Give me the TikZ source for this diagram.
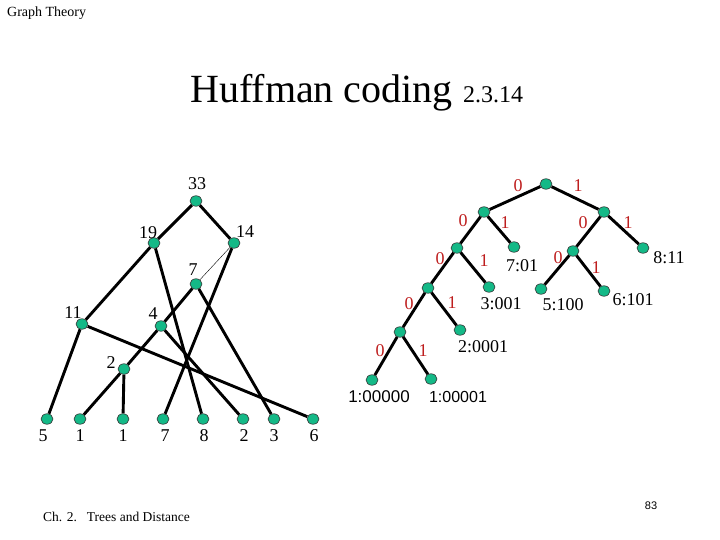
\documentclass[tikz,border=0pt]{standalone}
\usepackage{fontspec}
\setmainfont{Liberation Serif}
\setsansfont{Liberation Sans}
\usetikzlibrary{shapes.geometric}

\definecolor{dotgreen}{RGB}{20,185,135}
\definecolor{bitred}{RGB}{190,30,30}

\tikzset{
  dot/.style={ellipse, draw=black!80, fill=dotgreen, line width=0.6pt,
    minimum width=12pt, minimum height=10.5pt, inner sep=0pt},
  edge/.style={line width=2.9pt},
  weight/.style={font=\fontsize{18}{20}\selectfont, inner sep=0pt},
  bit/.style={text=bitred, font=\fontsize{18}{20}\selectfont, inner sep=0pt},
  code/.style={font=\fontsize{18}{20}\selectfont, inner sep=0pt},
}

\begin{document}
\begin{tikzpicture}[x=1pt, y=-1pt]
    \useasboundingbox (0,0) rectangle (720,540);

    % slide texts
    \node[anchor=base west, inner sep=0pt, font=\fontsize{14}{16}\selectfont] (head) at (7,17) {Graph Theory};
    \node[anchor=base west, inner sep=0pt, font=\fontsize{40}{44}\selectfont] (title) at (190,103) {Huffman coding};
    \node[anchor=base west, inner sep=0pt, font=\fontsize{24}{26}\selectfont] (sect) at (463,103) {2.3.14};
    \node[anchor=base west, inner sep=0pt, font=\fontsize{13.5}{15}\selectfont] (foot) at (43,521) {Ch. 2.\hspace{10pt}Trees and Distance};
    \node[anchor=base, inner sep=0pt, font=\sffamily\fontsize{11}{13}\selectfont] (page) at (651,509) {83};

    % merge tree
    \node[dot] (n33) at (196,201) {};
    \node[dot] (n19) at (154,243) {};
    \node[dot] (n14) at (234,243) {};
    \node[dot] (n7)  at (196,284) {};
    \node[dot] (n11) at (82,324) {};
    \node[dot] (n4)  at (161,326) {};
    \node[dot] (n2)  at (124,369) {};
    \node[dot] (l5)  at (47,419) {};
    \node[dot] (l1a) at (80,419) {};
    \node[dot] (l1b) at (123,419) {};
    \node[dot] (l7)  at (163,419) {};
    \node[dot] (l8)  at (203,419) {};
    \node[dot] (l2)  at (243,419) {};
    \node[dot] (l3)  at (274,419) {};
    \node[dot] (l6)  at (313,419) {};

    \draw[edge] (n33) -- (n19);
    \draw[edge] (n33) -- (n14);
    \draw[edge] (n19) -- (n11);
    \draw[edge] (n19) -- (l8);
    \draw[thin]  (n14) -- (n7);
    \draw[edge] (n14) -- (l7);
    \draw[edge] (n7) -- (n4);
    \draw[edge] (n7) -- (l3);
    \draw[edge] (n11) -- (l5);
    \draw[edge] (n11) -- (l6);
    \draw[edge] (n4) -- (n2);
    \draw[edge] (n4) -- (l2);
    \draw[edge] (n2) -- (l1a);
    \draw[edge] (n2) -- (l1b);

    \node[weight] (w33) at (197,184) {33};
    \node[weight] (w19) at (148,233) {19};
    \node[weight] (w14) at (245,232) {14};
    \node[weight] (w7)  at (193,270) {7};
    \node[weight] (w11) at (73,313) {11};
    \node[weight] (w4)  at (153,314) {4};
    \node[weight] (w2)  at (111,363) {2};
    \foreach \x/\w in {43/5, 80/1, 123/1, 165/7, 204/8, 244/2, 274/3, 314/6}
        \node[weight] at (\x,436) {\w};

    % code tree
    \node[dot] (h)      at (546,184) {};
    \node[dot] (h0)     at (484,212) {};
    \node[dot] (h1)     at (604,212) {};
    \node[dot] (h00)    at (457,248) {};
    \node[dot] (h01)    at (514,247) {};
    \node[dot] (h10)    at (573,251) {};
    \node[dot] (h11)    at (643,248) {};
    \node[dot] (h000)   at (428,288) {};
    \node[dot] (h001)   at (489,287) {};
    \node[dot] (h100)   at (541,289) {};
    \node[dot] (h101)   at (604,291) {};
    \node[dot] (h0000)  at (400,332) {};
    \node[dot] (h0001)  at (460,330) {};
    \node[dot] (h00000) at (372,380) {};
    \node[dot] (h00001) at (431,379) {};

    \draw[edge] (h) -- (h0);
    \draw[edge] (h) -- (h1);
    \draw[edge] (h0) -- (h00);
    \draw[edge] (h0) -- (h01);
    \draw[edge] (h1) -- (h10);
    \draw[edge] (h1) -- (h11);
    \draw[edge] (h00) -- (h000);
    \draw[edge] (h00) -- (h001);
    \draw[edge] (h10) -- (h100);
    \draw[edge] (h10) -- (h101);
    \draw[edge] (h000) -- (h0000);
    \draw[edge] (h000) -- (h0001);
    \draw[edge] (h0000) -- (h00000);
    \draw[edge] (h0000) -- (h00001);

    \foreach \x/\y/\b in {518/186/0, 578/186/1, 463/221/0, 505/223/1,
        583/223/0, 628/223/1, 440/259/0, 484/261/1, 558/258/0, 596/268/1,
        409/304/0, 452/303/1, 380/351/0, 423/351/1}
        \node[bit] at (\x,\y) {\b};

    \node[code] (c7) at (522,266) {7:01};
    \node[code] (c8) at (669,258) {8:11};
    \node[code] (c3) at (501,304) {3:001};
    \node[code] (c5) at (563,305) {5:100};
    \node[code] (c6) at (633,300) {6:101};
    \node[code] (c2) at (483,347) {2:0001};
    \node[code, font=\sffamily\fontsize{17}{19}\selectfont] (c1a) at (379,397) {1:00000};
    \node[code, font=\sffamily\fontsize{16}{19}\selectfont] (c1b) at (458,397) {1:00001};
\end{tikzpicture}
\end{document}
